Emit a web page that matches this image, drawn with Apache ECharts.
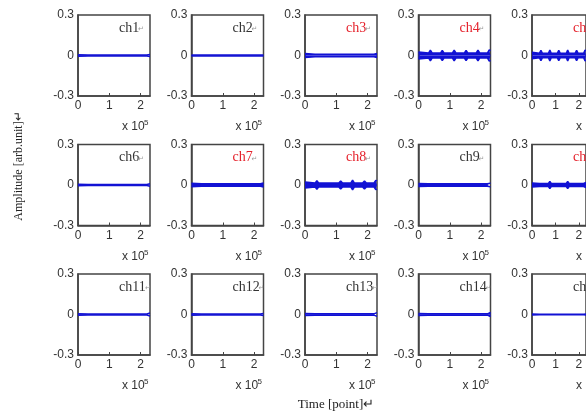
<!DOCTYPE html>
<html>
<head>
<meta charset="utf-8">
<script src="https://cdn.jsdelivr.net/npm/echarts@6/dist/echarts.min.js"></script>
<style>
  html, body { margin: 0; padding: 0; background: #fff; }
  #main { width: 586px; height: 412px; }
</style>
</head>
<body>
<div id="main"></div>
<script>
// time axis in units of 10^5 points
var xs = [0, 0.03, 0.06, 0.32, 0.38, 0.44, 0.70, 0.76, 0.82, 1.08, 1.14, 1.20, 1.46, 1.52, 1.58, 1.84, 1.90, 1.96, 2.20, 2.26, 2.30];

// envelope (half width) of each channel, arb.unit
var ch1 = [0.006,0.004,0.003,0.003,0.008,0.003,0.003,0.007,0.003,0.003,0.005,0.003,0.003,0.005,0.003,0.003,0.007,0.003,0.003,0.008,0.007];
var ch2 = [0.003,0.003,0.003,0.003,0.014,0.003,0.003,0.005,0.003,0.003,0.005,0.003,0.003,0.005,0.003,0.003,0.005,0.003,0.003,0.005,0.004];
var ch3 = [0.014,0.010,0.009,0.009,0.020,0.009,0.009,0.018,0.009,0.009,0.018,0.009,0.009,0.020,0.009,0.009,0.018,0.009,0.009,0.018,0.015];
var ch4 = [0.026,0.020,0.018,0.018,0.040,0.018,0.018,0.038,0.018,0.018,0.040,0.018,0.018,0.038,0.018,0.018,0.040,0.018,0.018,0.042,0.036];
var ch5 = [0.024,0.019,0.017,0.017,0.038,0.017,0.017,0.040,0.017,0.017,0.038,0.017,0.017,0.040,0.017,0.017,0.038,0.017,0.017,0.040,0.034];
var ch6 = [0.006,0.005,0.004,0.004,0.012,0.004,0.004,0.012,0.004,0.004,0.012,0.004,0.004,0.012,0.004,0.004,0.012,0.004,0.004,0.012,0.010];
var ch7 = [0.013,0.011,0.010,0.010,0.022,0.010,0.010,0.020,0.010,0.010,0.017,0.010,0.010,0.022,0.010,0.010,0.020,0.010,0.010,0.020,0.015];
var ch8 = [0.022,0.017,0.014,0.014,0.032,0.014,0.014,0.028,0.014,0.014,0.030,0.014,0.014,0.036,0.014,0.014,0.030,0.014,0.014,0.034,0.032];
var ch9 = [0.012,0.010,0.009,0.009,0.020,0.009,0.009,0.017,0.009,0.009,0.018,0.009,0.009,0.021,0.009,0.009,0.018,0.009,0.009,0.017,0.014];
var ch10 = [0.014,0.013,0.011,0.011,0.025,0.011,0.011,0.027,0.011,0.011,0.025,0.011,0.011,0.027,0.011,0.011,0.025,0.011,0.011,0.025,0.020];
var ch11 = [0.006,0.005,0.004,0.004,0.010,0.004,0.004,0.009,0.004,0.004,0.010,0.004,0.004,0.011,0.004,0.004,0.010,0.004,0.004,0.011,0.011];
var ch12 = [0.005,0.003,0.003,0.003,0.008,0.003,0.003,0.009,0.003,0.003,0.008,0.003,0.003,0.008,0.003,0.003,0.008,0.003,0.003,0.008,0.008];
var ch13 = [0.007,0.006,0.005,0.005,0.014,0.005,0.005,0.013,0.005,0.005,0.014,0.005,0.005,0.014,0.005,0.005,0.014,0.005,0.005,0.014,0.014];
var ch14 = [0.007,0.006,0.005,0.005,0.014,0.005,0.005,0.013,0.005,0.005,0.013,0.005,0.005,0.014,0.005,0.005,0.013,0.005,0.005,0.014,0.015];
var ch15 = [0.003,0.002,0.002,0.002,0.011,0.002,0.002,0.003,0.002,0.002,0.003,0.002,0.002,0.003,0.002,0.002,0.003,0.002,0.002,0.003,0.003];

var channels = [ch1, ch2, ch3, ch4, ch5, ch6, ch7, ch8, ch9, ch10, ch11, ch12, ch13, ch14, ch15];
var names = ['ch1','ch2','ch3','ch4','ch5','ch6','ch7','ch8','ch9','ch10','ch11','ch12','ch13','ch14','ch15'];
var redCh = ['ch3','ch4','ch5','ch7','ch8','ch10'];

var chart = echarts.init(document.getElementById('main'));

var grids = [], xAxes = [], yAxes = [], series = [], graphics = [];
var L0 = 78, T0 = 15, DX = 113.5, DY = 129.5, W = 72, H = 81;
var LINE = '#1212d4';

for (let i = 0; i < 15; i++) {
  let col = i % 5, row = Math.floor(i / 5);
  let left = L0 + col * DX, top = T0 + row * DY;
  grids.push({
    left: left, top: top, width: W, height: H,
    show: true, borderColor: '#444', borderWidth: 1.5
  });
  xAxes.push({
    type: 'value', gridIndex: i, min: 0, max: 2.3, interval: 1,
    axisLine: { show: true, onZero: false, lineStyle: { color: '#444', width: 1.5 } },
    axisTick: { show: true, inside: true, length: 3, lineStyle: { color: '#444' } },
    axisLabel: { showMaxLabel: false, margin: 4, color: '#333', fontSize: 12, fontFamily: 'Liberation Sans' },
    splitLine: { show: false }
  });
  yAxes.push({
    type: 'value', gridIndex: i, min: -0.3, max: 0.3, interval: 0.3,
    axisLine: { show: true, onZero: false, lineStyle: { color: '#444', width: 1.5 } },
    axisTick: { show: false },
    axisLabel: { margin: 4, color: '#333', fontSize: 12, fontFamily: 'Liberation Sans' },
    splitLine: { show: false }
  });
  let amp = channels[i];
  let up = xs.map(function (x, k) { return [x, amp[k]]; });
  let dn = xs.map(function (x, k) { return [x, -amp[k]]; });
  [up, dn].forEach(function (d) {
    series.push({
      type: 'line', xAxisIndex: i, yAxisIndex: i, data: d,
      showSymbol: false, silent: true,
      lineStyle: { color: LINE, width: 1.5 },
      areaStyle: { color: LINE, opacity: 1 }
    });
  });
  // channel name inside the box, top right
  graphics.push({
    type: 'text', x: left + W - 31, y: top + 6,
    style: {
      text: names[i], font: '14px "Liberation Serif"',
      fill: redCh.indexOf(names[i]) >= 0 ? '#e5202a' : '#333'
    }
  });
  graphics.push({
    type: 'text', x: left + W - 31 + (names[i].length > 3 ? 26 : 19), y: top + 11,
    style: { text: '↵', font: '7px "DejaVu Sans"', fill: '#999' }
  });
  // x 10^5 multiplier
  graphics.push({
    type: 'text', x: left + 44, y: top + H + 25,
    style: { text: 'x 10', font: '12px "Liberation Sans"', fill: '#333' }
  });
  graphics.push({
    type: 'text', x: left + 66, y: top + H + 23,
    style: { text: '5', font: '8px "Liberation Sans"', fill: '#333' }
  });
}

graphics.push({
  type: 'text', x: 19, y: 166, rotation: Math.PI / 2,
  style: {
    text: 'Amplitude [arb.unit]↵', font: '12px "Liberation Serif"', fill: '#222',
    align: 'center', verticalAlign: 'middle'
  }
});
graphics.push({
  type: 'text', x: 336, y: 405,
  style: {
    text: 'Time [point]↵', font: '13px "Liberation Serif"', fill: '#222',
    align: 'center', verticalAlign: 'middle'
  }
});

var option = {
  animation: false,
  grid: grids,
  xAxis: xAxes,
  yAxis: yAxes,
  series: series,
  graphic: { elements: graphics }
};
chart.setOption(option);
</script>
</body>
</html>
